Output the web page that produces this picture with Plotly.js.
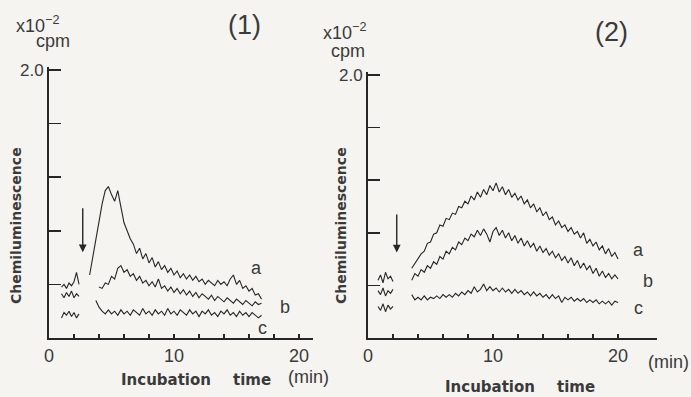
<!DOCTYPE html>
<html>
<head>
<meta charset="utf-8">
<script src="https://cdn.plot.ly/plotly-3.0.1.min.js"></script>
<style>
html,body{margin:0;padding:0;background:#f5f4f1;}
#chart{width:691px;height:397px;}
</style>
</head>
<body>
<div id="chart"></div>
<script>
// ---------- Panel (1) data ----------
const p1PreX = [1.0,1.2,1.4,1.6,1.8,2.0,2.2,2.4];
const p1PreA = [0.38,0.40,0.37,0.41,0.39,0.42,0.49,0.40];
const p1PreB = [0.33,0.30,0.34,0.31,0.35,0.30,0.33,0.31];
const p1PreC = [0.15,0.19,0.17,0.20,0.16,0.19,0.15,0.18];

const p1AX = [3.25,3.5,3.75,4.0,4.25,4.5,4.75,5.0,5.25,5.5,5.75,6.0,6.25,6.5,6.75,7.0,7.25,7.5,7.75,8.0,8.25,8.5,8.75,9.0,9.25,9.5,9.75,10.0,10.25,10.5,10.75,11.0,11.25,11.5,11.75,12.0,12.25,12.5,12.75,13.0,13.25,13.5,13.75,14.0,14.25,14.5,14.75,15.0,15.25,15.5,15.75,16.0,16.25,16.5,16.75,17.0];
const p1A = [0.47,0.60,0.74,0.88,1.00,1.10,1.13,1.07,1.02,1.10,0.97,0.86,0.80,0.74,0.70,0.63,0.67,0.59,0.63,0.56,0.60,0.53,0.57,0.51,0.54,0.49,0.52,0.47,0.50,0.45,0.48,0.44,0.47,0.43,0.46,0.42,0.44,0.40,0.43,0.41,0.39,0.43,0.40,0.42,0.39,0.44,0.47,0.40,0.43,0.37,0.39,0.35,0.37,0.32,0.33,0.29];

const p1BX = [4.0,4.25,4.5,4.75,5.0,5.25,5.5,5.75,6.0,6.25,6.5,6.75,7.0,7.25,7.5,7.75,8.0,8.25,8.5,8.75,9.0,9.25,9.5,9.75,10.0,10.25,10.5,10.75,11.0,11.25,11.5,11.75,12.0,12.25,12.5,12.75,13.0,13.25,13.5,13.75,14.0,14.25,14.5,14.75,15.0,15.25,15.5,15.75,16.0,16.25,16.5,16.75,17.0];
const p1B = [0.38,0.37,0.41,0.40,0.46,0.44,0.52,0.54,0.49,0.51,0.46,0.48,0.43,0.46,0.41,0.43,0.39,0.42,0.38,0.44,0.37,0.39,0.35,0.38,0.34,0.37,0.33,0.36,0.32,0.35,0.31,0.34,0.30,0.33,0.31,0.29,0.32,0.28,0.31,0.29,0.27,0.30,0.28,0.26,0.29,0.27,0.25,0.28,0.26,0.24,0.27,0.25,0.26];

const p1CX = [3.75,4.0,4.25,4.5,4.75,5.0,5.25,5.5,5.75,6.0,6.25,6.5,6.75,7.0,7.25,7.5,7.75,8.0,8.25,8.5,8.75,9.0,9.25,9.5,9.75,10.0,10.25,10.5,10.75,11.0,11.25,11.5,11.75,12.0,12.25,12.5,12.75,13.0,13.25,13.5,13.75,14.0,14.25,14.5,14.75,15.0,15.25,15.5,15.75,16.0,16.25,16.5,16.75,17.0];
const p1C = [0.28,0.23,0.20,0.18,0.21,0.18,0.20,0.17,0.21,0.18,0.20,0.17,0.21,0.19,0.17,0.22,0.18,0.20,0.17,0.21,0.18,0.20,0.17,0.22,0.18,0.20,0.17,0.21,0.19,0.17,0.21,0.18,0.20,0.16,0.20,0.18,0.21,0.17,0.19,0.16,0.20,0.18,0.21,0.17,0.19,0.16,0.20,0.17,0.19,0.16,0.19,0.17,0.15,0.17];

// ---------- Panel (2) data ----------
const p2PreX = [0.8,1.0,1.2,1.4,1.6,1.8,2.0];
const p2PreA = [0.44,0.48,0.42,0.50,0.45,0.47,0.43];
const p2PreB = [0.36,0.33,0.38,0.32,0.36,0.34,0.37];
const p2PreC = [0.24,0.21,0.26,0.20,0.25,0.22,0.24];

const p2X = [3.5,3.75,4.0,4.25,4.5,4.75,5.0,5.25,5.5,5.75,6.0,6.25,6.5,6.75,7.0,7.25,7.5,7.75,8.0,8.25,8.5,8.75,9.0,9.25,9.5,9.75,10.0,10.25,10.5,10.75,11.0,11.25,11.5,11.75,12.0,12.25,12.5,12.75,13.0,13.25,13.5,13.75,14.0,14.25,14.5,14.75,15.0,15.25,15.5,15.75,16.0,16.25,16.5,16.75,17.0,17.25,17.5,17.75,18.0,18.25,18.5,18.75,19.0,19.25,19.5,19.75,20.0];
const p2A = [0.53,0.57,0.60,0.64,0.66,0.72,0.73,0.79,0.80,0.86,0.85,0.91,0.90,0.95,0.94,1.00,0.99,1.04,1.02,1.08,1.05,1.11,1.07,1.13,1.09,1.16,1.12,1.18,1.11,1.15,1.09,1.13,1.07,1.10,1.05,1.08,1.02,1.05,0.99,1.02,0.96,0.99,0.93,0.96,0.90,0.92,0.86,0.89,0.84,0.86,0.81,0.84,0.79,0.81,0.76,0.80,0.72,0.75,0.70,0.73,0.67,0.70,0.64,0.68,0.62,0.65,0.60];
const p2B = [0.44,0.49,0.47,0.52,0.50,0.55,0.53,0.58,0.56,0.62,0.60,0.66,0.64,0.69,0.67,0.73,0.71,0.76,0.74,0.79,0.77,0.82,0.78,0.83,0.79,0.73,0.81,0.84,0.78,0.82,0.76,0.80,0.74,0.78,0.72,0.76,0.70,0.74,0.69,0.72,0.66,0.70,0.65,0.68,0.63,0.66,0.61,0.64,0.59,0.62,0.57,0.61,0.55,0.59,0.53,0.57,0.52,0.55,0.49,0.53,0.47,0.51,0.46,0.49,0.45,0.48,0.45];
const p2C = [0.33,0.29,0.31,0.29,0.32,0.29,0.31,0.30,0.32,0.30,0.33,0.31,0.33,0.31,0.34,0.32,0.35,0.33,0.36,0.34,0.39,0.35,0.37,0.41,0.36,0.39,0.36,0.38,0.35,0.38,0.35,0.37,0.34,0.37,0.34,0.36,0.33,0.35,0.32,0.35,0.32,0.34,0.31,0.33,0.30,0.33,0.30,0.32,0.27,0.31,0.29,0.31,0.28,0.30,0.28,0.30,0.27,0.29,0.27,0.29,0.26,0.28,0.26,0.28,0.25,0.28,0.27];

// ---------- axis tick labels ----------
const xTickVals = [0,2,4,6,8,10,12,14,16,18,20];
const xTickText = ['0','','','','','10','','','','','20'];
const yTickVals = [0.4,0.8,1.2,1.6,2.0];
const yTickText = ['','','','','2.0'];

const W = 691, H = 397;
const px = v => v / W;
const py = v => 1 - v / H;
const INK = '#262626';
const TXT = '#3a3a3a';
const SANS = 'Liberation Sans, Arial, sans-serif';

function line(x, y, xa, ya) {
  return {x: x, y: y, xaxis: xa, yaxis: ya, type: 'scatter', mode: 'lines',
          line: {color: INK, width: 1.1}, hoverinfo: 'skip', showlegend: false};
}

const data = [
  line(p1PreX, p1PreA, 'x', 'y'), line(p1PreX, p1PreB, 'x', 'y'), line(p1PreX, p1PreC, 'x', 'y'),
  line(p1AX, p1A, 'x', 'y'), line(p1BX, p1B, 'x', 'y'), line(p1CX, p1C, 'x', 'y'),
  line(p2PreX, p2PreA, 'x2', 'y2'), line(p2PreX, p2PreB, 'x2', 'y2'), line(p2PreX, p2PreC, 'x2', 'y2'),
  line(p2X, p2A, 'x2', 'y2'), line(p2X, p2B, 'x2', 'y2'), line(p2X, p2C, 'x2', 'y2')
];

function xax(domain, range) {
  return {domain: domain, range: range, showline: true, linecolor: INK, linewidth: 2,
          showgrid: false, zeroline: false, ticks: 'inside', ticklen: 4, tickwidth: 1.5,
          tickcolor: INK, tickvals: xTickVals, ticktext: xTickText,
          tickfont: {family: SANS, size: 18, color: TXT}};
}
function yax(domain, range, anchor) {
  return {domain: domain, range: range, anchor: anchor, showline: true, linecolor: INK, linewidth: 2,
          showgrid: false, zeroline: false, ticks: 'inside', ticklen: 12, tickwidth: 1.5,
          tickcolor: INK, tickvals: yTickVals, ticktext: yTickText,
          tickfont: {family: SANS, size: 17, color: TXT}};
}

const bold = {family: 'DejaVu Sans, sans-serif', size: 14, color: TXT, weight: 'bold'};
const boldX = {family: 'DejaVu Sans, sans-serif', size: 15, color: TXT, weight: 'bold'};
const small = {family: SANS, size: 18, color: TXT};

function txt(text, x, y, font, extra) {
  return Object.assign({text: text, xref: 'paper', yref: 'paper', x: px(x), y: py(y),
    xanchor: 'center', yanchor: 'middle', showarrow: false, font: font}, extra || {});
}
function dtxt(text, x, y, xr, yr) {
  return {text: text, xref: xr, yref: yr, x: x, y: y, xanchor: 'center', yanchor: 'middle',
          showarrow: false, font: {family: SANS, size: 18, color: TXT}};
}
function arrow(x, yHead, yTail, xr, yr) {
  return {x: x, y: yHead, ax: x, ay: yTail, xref: xr, yref: yr, axref: xr, ayref: yr,
          showarrow: true, arrowhead: 2, arrowsize: 1.1, arrowwidth: 1.4, arrowcolor: INK, text: ''};
}

const annotations = [
  txt('(1)', 244, 25, {family: SANS, size: 27, color: TXT}),
  txt('(2)', 611, 32, {family: SANS, size: 27, color: TXT}),
  txt('x10<sup>−2</sup>', 37, 24, small),
  txt('cpm', 53, 41, small),
  txt('x10<sup>−2</sup>', 344, 32, small),
  txt('cpm', 348, 51, small),
  txt('Chemiluminescence', 16, 226, bold, {textangle: -90}),
  txt('Chemiluminescence', 341, 226, bold, {textangle: -90}),
  txt('Incubation', 166, 380, boldX),
  txt('time', 252, 380, boldX),
  txt('(min)', 308, 377, small),
  txt('Incubation', 490, 387, boldX),
  txt('time', 576, 387, boldX),
  txt('(min)', 668, 362, small),
  dtxt('a', 16.6, 0.52, 'x', 'y'),
  dtxt('b', 18.9, 0.23, 'x', 'y'),
  dtxt('c', 17.1, 0.075, 'x', 'y'),
  dtxt('a', 21.6, 0.67, 'x2', 'y2'),
  dtxt('b', 22.4, 0.43, 'x2', 'y2'),
  dtxt('c', 21.6, 0.23, 'x2', 'y2'),
  arrow(2.7, 0.64, 0.98, 'x', 'y'),
  arrow(2.3, 0.65, 0.95, 'x2', 'y2')
];

const layout = {
  width: W, height: H,
  margin: {l: 0, r: 0, t: 0, b: 0},
  paper_bgcolor: '#f5f4f1', plot_bgcolor: 'rgba(0,0,0,0)',
  showlegend: false,
  xaxis: Object.assign(xax([px(49), px(313)], [0, 21.12]), {anchor: 'y'}),
  yaxis: yax([py(338), py(67)], [0, 2.022], 'x'),
  xaxis2: Object.assign(xax([px(368), px(657)], [0, 23.12]), {anchor: 'y2'}),
  yaxis2: yax([py(338), py(72)], [0, 2.023], 'x2'),
  annotations: annotations
};

Plotly.newPlot('chart', data, layout, {displayModeBar: false, staticPlot: true});
</script>
</body>
</html>
